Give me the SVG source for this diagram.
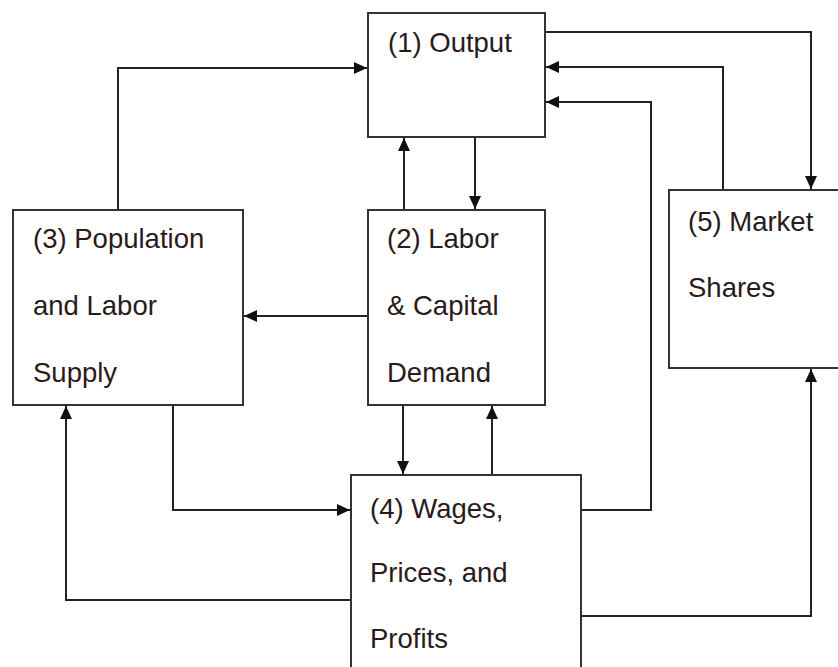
<svg xmlns="http://www.w3.org/2000/svg" width="838" height="667" viewBox="0 0 838 667">
<style>
.box{fill:#fff;stroke:#333;stroke-width:2}
.lbl{font-family:"Liberation Sans",Arial,sans-serif;font-size:27.5px;fill:#2a1a1a}
.con{fill:none;stroke:#222;stroke-width:2}
</style>
<defs>
<marker id="ah" markerUnits="userSpaceOnUse" markerWidth="14" markerHeight="14" viewBox="0 0 14 14" refX="13" refY="7" orient="auto">
<path d="M0,1 L13,7 L0,13 Z" fill="#111"/>
</marker>
</defs>
<rect width="838" height="667" fill="#fff"/>
<g id="connectors">
<path class="con" d="M118,210 V68 H367" marker-end="url(#ah)"/>
<path class="con" d="M545,32 H811 V189" marker-end="url(#ah)"/>
<path class="con" d="M723,190 V67 H546" marker-end="url(#ah)"/>
<path class="con" d="M581,510 H651 V102 H546" marker-end="url(#ah)"/>
<path class="con" d="M581,616 H811 V369" marker-end="url(#ah)"/>
<path class="con" d="M404,210 V138" marker-end="url(#ah)"/>
<path class="con" d="M475,137 V209" marker-end="url(#ah)"/>
<path class="con" d="M368,316 H244" marker-end="url(#ah)"/>
<path class="con" d="M403,405 V474" marker-end="url(#ah)"/>
<path class="con" d="M492,475 V406" marker-end="url(#ah)"/>
<path class="con" d="M173,405 V510 H350" marker-end="url(#ah)"/>
<path class="con" d="M351,600 H66 V406" marker-end="url(#ah)"/>
</g>
<g id="n1">
<rect class="box" x="368" y="13" width="177" height="124"/>
<text class="lbl" x="388" y="52">(1) Output</text>
</g>
<g id="n2">
<rect class="box" x="368" y="210" width="177" height="195"/>
<text class="lbl" x="387" y="248">(2) Labor</text>
<text class="lbl" x="387" y="315">&amp; Capital</text>
<text class="lbl" x="387" y="382">Demand</text>
</g>
<g id="n3">
<rect class="box" x="13" y="210" width="230" height="195"/>
<text class="lbl" x="33" y="248">(3) Population</text>
<text class="lbl" x="33" y="315">and Labor</text>
<text class="lbl" x="33" y="382">Supply</text>
</g>
<g id="n4">
<rect class="box" x="351" y="475" width="230" height="210"/>
<text class="lbl" x="370" y="518">(4) Wages,</text>
<text class="lbl" x="370" y="582">Prices, and</text>
<text class="lbl" x="370" y="648">Profits</text>
</g>
<g id="n5">
<rect class="box" x="669" y="190" width="190" height="178"/>
<text class="lbl" x="688" y="231">(5) Market</text>
<text class="lbl" x="688" y="297">Shares</text>
</g>
</svg>
